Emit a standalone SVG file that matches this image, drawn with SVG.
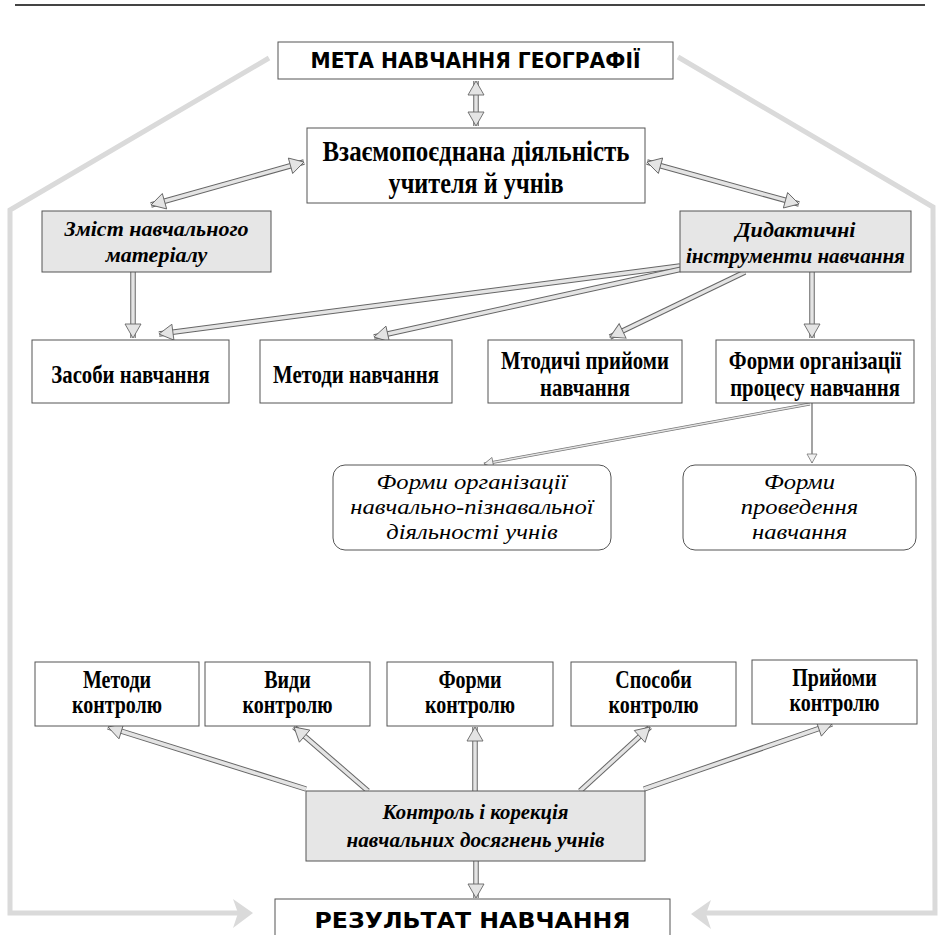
<svg xmlns="http://www.w3.org/2000/svg" width="939" height="935" viewBox="0 0 939 935">
<defs>
<style>
.box{fill:#fff;stroke:#555;stroke-width:1}
.gbox{fill:#e6e6e6;stroke:#555;stroke-width:1}
.rbox{fill:#fff;stroke:#555;stroke-width:1}
.t{font-weight:bold;font-size:25px;fill:#000;text-anchor:middle}
.ti{font-weight:bold;font-style:italic;font-size:22px;fill:#000;text-anchor:middle}
.tn{font-style:italic;font-size:22px;fill:#000;text-anchor:middle}
.th{font-weight:bold;font-size:21px;fill:#000;text-anchor:middle}
.so{fill:none;stroke:#666;stroke-width:5.5}
.si{fill:none;stroke:#e4e4e4;stroke-width:3.5}
.so2{fill:none;stroke:#777;stroke-width:3}
.si2{fill:none;stroke:#e4e4e4;stroke-width:1.4}
.br{fill:none;stroke:#dadada;stroke-width:5;stroke-linejoin:miter}
</style>
<marker id="ah" markerUnits="userSpaceOnUse" markerWidth="20" markerHeight="20" viewBox="0 0 20 20" refX="18" refY="10" orient="auto-start-reverse">
<path d="M4,2 L18,10 L4,18 Z" fill="#e4e4e4" stroke="#666" stroke-width="0.9"/>
</marker>
<marker id="ahs" markerUnits="userSpaceOnUse" markerWidth="14" markerHeight="14" viewBox="0 0 14 14" refX="12" refY="7" orient="auto">
<path d="M3,2 L12,7 L3,12 Z" fill="#f0f0f0" stroke="#777" stroke-width="0.8"/>
</marker>
</defs>

<line x1="15" y1="5" x2="925" y2="5" stroke="#444" stroke-width="2"/>

<g id="bracket">
<path class="br" d="M269,58 L10,210 L10,913 L238,913"/>
<path d="M253,913 L233,899 L238,913 L233,928 Z" fill="#dadada"/>
<path class="br" d="M678,57 L933,207 L935,913 L706,913"/>
<path d="M691,914 L711,900 L706,914 L711,929 Z" fill="#dadada"/>
</g>

<g id="connectors">
<path class="so" d="M476,81 L476,126"/>
<path class="si" d="M476,81 L476,126" marker-start="url(#ah)" marker-end="url(#ah)"/>
<path class="so" d="M304,162 L151,205"/>
<path class="si" d="M304,162 L151,205" marker-start="url(#ah)" marker-end="url(#ah)"/>
<path class="so" d="M647,162 L799,204"/>
<path class="si" d="M647,162 L799,204" marker-start="url(#ah)" marker-end="url(#ah)"/>

<path class="so" d="M133,272 L133,338"/>
<path class="si" d="M133,272 L133,338" marker-end="url(#ah)"/>
<path class="so" d="M680,266 L159,334"/>
<path class="si" d="M680,266 L159,334" marker-end="url(#ah)"/>
<path class="so" d="M682,269 L374,337"/>
<path class="si" d="M682,269 L374,337" marker-end="url(#ah)"/>
<path class="so" d="M745,272 L610,337"/>
<path class="si" d="M745,272 L610,337" marker-end="url(#ah)"/>
<path class="so" d="M812,272 L812,338"/>
<path class="si" d="M812,272 L812,338" marker-end="url(#ah)"/>

<path class="so2" d="M810,404 L484,464"/>
<path class="si2" d="M810,404 L484,464" marker-end="url(#ahs)"/>
<path d="M812,403 L812,463" fill="none" stroke="#666" stroke-width="1.2" marker-end="url(#ahs)"/>

<path class="so" d="M306,789 L108,727"/>
<path class="si" d="M306,789 L108,727" marker-end="url(#ah)"/>
<path class="so" d="M368,791 L294,727"/>
<path class="si" d="M368,791 L294,727" marker-end="url(#ah)"/>
<path class="so" d="M475,791 L475,727"/>
<path class="si" d="M475,791 L475,727" marker-end="url(#ah)"/>
<path class="so" d="M580,791 L650,727"/>
<path class="si" d="M580,791 L650,727" marker-end="url(#ah)"/>
<path class="so" d="M644,789 L832,724"/>
<path class="si" d="M644,789 L832,724" marker-end="url(#ah)"/>

<path class="so" d="M476,861 L476,898"/>
<path class="si" d="M476,861 L476,898" marker-end="url(#ah)"/>
</g>

<g font-family="DejaVu Sans, Liberation Sans, sans-serif">
<g id="meta">
<rect class="box" x="278" y="42" width="395" height="37"/>
<text class="th" x="475.5" y="68" textLength="330" lengthAdjust="spacingAndGlyphs">МЕТА НАВЧАННЯ ГЕОГРАФІЇ</text>
</g>
<g id="rezultat">
<rect class="box" x="275" y="899" width="395" height="50"/>
<text class="th" x="472.5" y="928" textLength="316" lengthAdjust="spacingAndGlyphs">РЕЗУЛЬТАТ НАВЧАННЯ</text>
</g>
</g>

<g font-family="Liberation Serif, Times New Roman, serif">
<g id="vzaiemo">
<rect class="box" x="307" y="128" width="338" height="75"/>
<text class="t" style="font-size:30px" x="476" y="161" textLength="307" lengthAdjust="spacingAndGlyphs">Взаємопоєднана діяльність</text>
<text class="t" style="font-size:30px" x="476" y="193" textLength="175" lengthAdjust="spacingAndGlyphs">учителя й учнів</text>
</g>

<g id="zmist">
<rect class="gbox" x="42" y="211" width="229" height="61"/>
<text class="ti" x="156.5" y="236">Зміст навчального</text>
<text class="ti" x="156.5" y="262">матеріалу</text>
</g>

<g id="dydaktychni">
<rect class="gbox" x="680" y="211" width="231" height="61"/>
<text class="ti" x="795.5" y="237" textLength="120" lengthAdjust="spacingAndGlyphs">Дидактичні</text>
<text class="ti" x="795.5" y="263" textLength="219" lengthAdjust="spacingAndGlyphs">інструменти навчання</text>
</g>

<g id="zasoby">
<rect class="box" x="32" y="340" width="197" height="63"/>
<text class="t" transform="matrix(0.83 0 0 1 130.5 383)">Засоби навчання</text>
</g>

<g id="metody">
<rect class="box" x="260" y="340" width="192" height="63"/>
<text class="t" transform="matrix(0.83 0 0 1 356 383)">Методи навчання</text>
</g>

<g id="pryiomy">
<rect class="box" x="488" y="340" width="194" height="63"/>
<text class="t" transform="matrix(0.83 0 0 1 585 369)">Мтодичі прийоми</text>
<text class="t" transform="matrix(0.83 0 0 1 585 396)">навчання</text>
</g>

<g id="formy">
<rect class="box" x="716" y="340" width="198" height="63"/>
<text class="t" transform="matrix(0.83 0 0 1 815 369)">Форми організації</text>
<text class="t" transform="matrix(0.83 0 0 1 815 396)">процесу навчання</text>
</g>

<g id="formy-pizn">
<rect class="rbox" x="333" y="465" width="278" height="85" rx="12"/>
<text class="tn" transform="matrix(1.12 0 0 1 472 489)">Форми організації</text>
<text class="tn" transform="matrix(1.12 0 0 1 472 514)">навчально-пізнавальної</text>
<text class="tn" transform="matrix(1.12 0 0 1 472 539)">діяльності учнів</text>
</g>

<g id="formy-provedennia">
<rect class="rbox" x="683" y="465" width="233" height="85" rx="12"/>
<text class="tn" transform="matrix(1.12 0 0 1 799.5 489)">Форми</text>
<text class="tn" transform="matrix(1.12 0 0 1 799.5 514)">проведення</text>
<text class="tn" transform="matrix(1.12 0 0 1 799.5 539)">навчання</text>
</g>

<g id="k-metody">
<rect class="box" x="35" y="662" width="164" height="64"/>
<text class="t" transform="matrix(0.8 0 0 1 117 688)">Методи</text>
<text class="t" transform="matrix(0.8 0 0 1 117 713)">контролю</text>
</g>
<g id="k-vydy">
<rect class="box" x="205" y="662" width="165" height="64"/>
<text class="t" transform="matrix(0.8 0 0 1 287.5 688)">Види</text>
<text class="t" transform="matrix(0.8 0 0 1 287.5 713)">контролю</text>
</g>
<g id="k-formy">
<rect class="box" x="387" y="662" width="166" height="64"/>
<text class="t" transform="matrix(0.8 0 0 1 470 688)">Форми</text>
<text class="t" transform="matrix(0.8 0 0 1 470 713)">контролю</text>
</g>
<g id="k-sposoby">
<rect class="box" x="571" y="662" width="165" height="64"/>
<text class="t" transform="matrix(0.8 0 0 1 653.5 688)">Способи</text>
<text class="t" transform="matrix(0.8 0 0 1 653.5 713)">контролю</text>
</g>
<g id="k-pryiomy">
<rect class="box" x="752" y="660" width="165" height="64"/>
<text class="t" transform="matrix(0.8 0 0 1 834.5 686)">Прийоми</text>
<text class="t" transform="matrix(0.8 0 0 1 834.5 711)">контролю</text>
</g>

<g id="kontrol">
<rect class="gbox" x="306" y="791" width="339" height="70"/>
<text class="ti" x="475.5" y="819" textLength="186" lengthAdjust="spacingAndGlyphs">Контроль і корекція</text>
<text class="ti" x="475.5" y="847" textLength="258" lengthAdjust="spacingAndGlyphs">навчальних досягнень учнів</text>
</g>
</g>
</svg>
